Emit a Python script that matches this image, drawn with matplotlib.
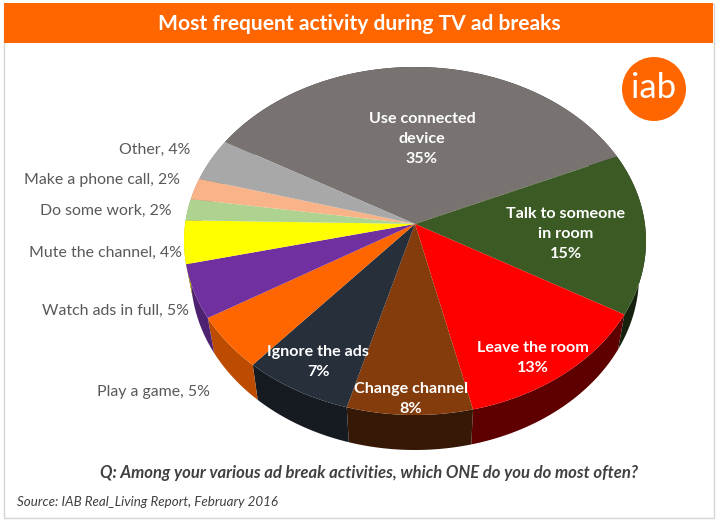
import numpy as np
import matplotlib
matplotlib.use("Agg")
import matplotlib.pyplot as plt
from matplotlib.patches import Rectangle, Circle

W, H = 718, 522
plt.rcParams['font.family'] = ['Lato', 'DejaVu Sans']

categories = ["Use connected device", "Talk to someone in room", "Leave the room",
              "Change channel", "Ignore the ads", "Play a game", "Watch ads in full",
              "Mute the channel", "Do some work", "Make a phone call", "Other"]
values = [35, 15, 13, 8, 7, 5, 5, 4, 2, 2, 4]
colors = ["#787371", "#3B5A24", "#FF0000", "#843C0C", "#262F3A", "#FF6600",
          "#7030A0", "#FFFF00", "#AED391", "#F8B488", "#A8A8A8"]
side_factors = [0.4, 0.38, 0.37, 0.4, 0.58, 0.74, 0.7, 0.75, 0.75, 0.75, 0.75]

title = "Most frequent activity during TV ad breaks"
question = "Q: Among your various ad break activities, which ONE do you do most often?"
source = "Source: IAB Real_Living Report, February 2016"

inside_labels = ["Use connected\ndevice\n35%", "Talk to someone\nin room\n15%", "Leave the room\n13%",
                 "Change channel\n8%", "Ignore the ads\n7%"]
inside_pos = [(422, 139), (566, 234), (533, 358), (411, 399), (318, 362)]
outside_labels = ["Play a game, 5%", "Watch ads in full, 5%", "Mute the channel, 4%",
                  "Do some work, 2%", "Make a phone call, 2%", "Other, 4%"]
outside_pos = [(210, 392), (189, 311), (182, 253), (172, 211), (180, 180), (190, 150)]

# camera of the tilted pie
CX, CY, RX, RY = 415, 241, 231, 174
BY, BRX = 276, 224
TILT = 0.098
START = -60.0


def project(deg):
    t = np.radians(deg)
    x, y = np.sin(t), np.cos(t)
    d = 1 + TILT * y
    return x * np.sqrt(1 - TILT ** 2) / d, (y + TILT) / d


def shade(hex_color, f):
    return tuple(c * f for c in matplotlib.colors.to_rgb(hex_color))


fig = plt.figure(figsize=(W / 100, H / 100), dpi=100, facecolor="white")
ax = fig.add_axes([0, 0, 1, 1])
ax.set_xlim(0, W)
ax.set_ylim(H, 0)
ax.axis("off")

# frame and banner
ax.add_patch(Rectangle((3.5, 3.5), 710, 514, fc="white", ec="#D4D4D4", lw=1))
ax.add_patch(Rectangle((4, 3), 709, 40, fc="#FF6600", ec="none"))
ax.text(359, 23.5, title, color="white", fontsize=15.1, fontweight="bold", ha="center", va="center")

edges = START + np.cumsum([0] + values) * 3.6

# sides
for i, col in enumerate(colors):
    ts = np.linspace(edges[i], edges[i + 1], 60)
    X, Y = project(ts)
    c = shade(col, side_factors[i])
    ax.fill(np.r_[CX + RX * X, (CX + BRX * X)[::-1]],
            np.r_[CY - RY * Y, (BY - RY * Y)[::-1]],
            fc=c, ec="none", zorder=2)

# top faces
apex_x = CX
apex_y = CY - RY * TILT
for i, col in enumerate(colors):
    ts = np.linspace(edges[i], edges[i + 1], 120)
    X, Y = project(ts)
    ax.fill(np.r_[apex_x, CX + RX * X], np.r_[apex_y, CY - RY * Y],
            fc=col, ec="none", zorder=3)

for s, (x, y) in zip(inside_labels, inside_pos):
    ax.text(x, y, s, color="white", fontsize=11.6, fontweight="bold", ha="center", va="center",
            linespacing=1.58, zorder=5)
for s, (x, y) in zip(outside_labels, outside_pos):
    ax.text(x, y, s, color="#595959", fontsize=11.4, ha="right", va="center", zorder=5)

# logo
ax.add_patch(Circle((654, 89), 32, fc="#FF6600", ec="none", zorder=5))
ax.text(654, 88, "iab", color="white", fontsize=25, ha="center", va="center", zorder=6)

ax.text(369, 473, question, color="#404040", fontsize=12, fontweight="bold", fontstyle="italic",
        ha="center", va="center")
ax.text(17, 502, source, color="#404040", fontsize=9.6, fontstyle="italic", ha="left", va="center")

fig.savefig("out.png", dpi=100, facecolor="white")
